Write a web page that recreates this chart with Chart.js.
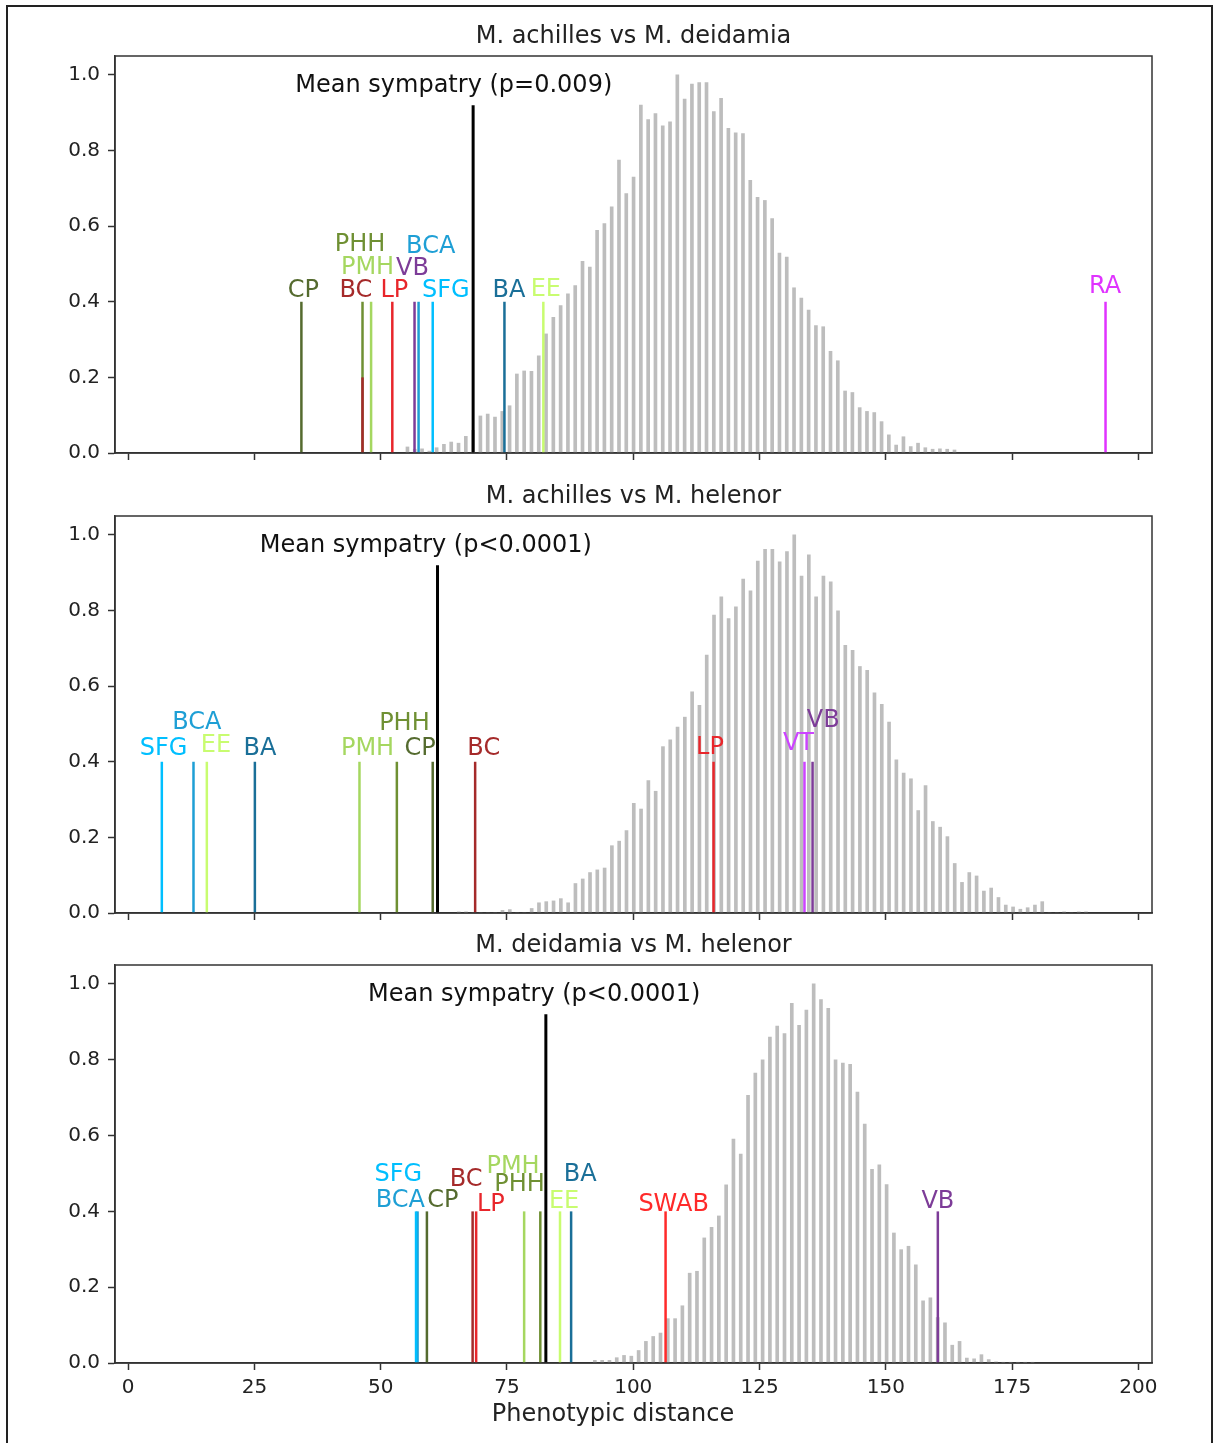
<!DOCTYPE html>
<html>
<head>
<meta charset="utf-8">
<script src="https://cdn.jsdelivr.net/npm/chart.js@4.4.1/dist/chart.umd.min.js"></script>
<style>
  body { margin: 0; background: #fff; }
  #frame { position: absolute; left: 6px; top: 5px; width: 1203px; height: 1460px;
           border-left: 2px solid #222; border-top: 2px solid #222; border-right: 2px solid #222; }
  canvas { position: absolute; left: 0; }
</style>
</head>
<body>
<div id="frame"></div>
<canvas id="c1" width="1213" height="473" style="top:0px"></canvas>
<canvas id="c2" width="1213" height="463" style="top:470px"></canvas>
<canvas id="c3" width="1213" height="534" style="top:910px"></canvas>
<script>
// axes
const xTicks = [0, 25, 50, 75, 100, 125, 150, 175, 200];
const yTicks = [0, 0.2, 0.4, 0.6, 0.8, 1.0];
const binWidth = 1.444;
const meanTop = 0.92;

const siteColors = {
  CP: '#556b2f', PHH: '#6f9033', PMH: '#a5d760', BC: '#a52a2a', LP: '#e8262b',
  VB: '#7d3c98', BCA: '#1e9fd5', SFG: '#00bfff', BA: '#1a6f98', EE: '#c8fc70',
  RA: '#e033ff', VT: '#cc44ff', SWAB: '#ff2a2a'
};

// panel 1: M. achilles vs M. deidamia
const p1Title = 'M. achilles vs M. deidamia';
const p1MeanText = 'Mean sympatry (p=0.009)';
const p1Mean = 68.3;
const p1BinStart = 55.3;
const p1Hist = [0.016, 0.01, 0.011, 0.005, 0.014, 0.023, 0.029, 0.026, 0.044, 0.06,
  0.098, 0.103, 0.095, 0.11, 0.125, 0.209, 0.217, 0.216, 0.257, 0.315,
  0.359, 0.39, 0.421, 0.443, 0.507, 0.492, 0.589, 0.607, 0.651, 0.775,
  0.686, 0.73, 0.92, 0.882, 0.898, 0.865, 0.876, 1.0, 0.936, 0.976,
  0.98, 0.98, 0.903, 0.938, 0.859, 0.847, 0.845, 0.721, 0.676, 0.668,
  0.62, 0.529, 0.518, 0.437, 0.41, 0.378, 0.337, 0.334, 0.269, 0.244,
  0.164, 0.16, 0.12, 0.11, 0.107, 0.083, 0.048, 0.021, 0.043, 0.017,
  0.026, 0.014, 0.01, 0.011, 0.01, 0.008];
const p1Sites = ['CP', 'PHH', 'BC', 'PMH', 'LP', 'VB', 'BCA', 'SFG', 'BA', 'EE', 'RA'];
const p1SiteX = [34.3, 46.4, 46.4, 48.1, 52.3, 56.7, 57.5, 60.3, 74.5, 82.2, 193.5];
const p1SiteH = [0.4, 0.4, 0.2, 0.4, 0.4, 0.4, 0.4, 0.4, 0.4, 0.4, 0.4];
const p1LabelX = [34.7, 45.9, 45.1, 47.4, 52.7, 56.3, 59.9, 62.9, 75.4, 82.7, 193.4];
const p1LabelY = [0.412, 0.533, 0.412, 0.474, 0.412, 0.472, 0.53, 0.412, 0.412, 0.414, 0.422];

// panel 2: M. achilles vs M. helenor
const p2Title = 'M. achilles vs M. helenor';
const p2MeanText = 'Mean sympatry (p<0.0001)';
const p2Mean = 61.25;
const p2BinStart = 65.45;
const p2Hist = [0.003, 0.003, 0, 0, 0, 0, 0.007, 0.009, 0, 0,
  0.012, 0.027, 0.030, 0.032, 0.038, 0.027, 0.078, 0.090, 0.107, 0.114,
  0.119, 0.178, 0.190, 0.218, 0.290, 0.275, 0.350, 0.322, 0.440, 0.458,
  0.492, 0.518, 0.585, 0.549, 0.682, 0.788, 0.836, 0.779, 0.810, 0.883,
  0.852, 0.931, 0.962, 0.962, 0.929, 0.956, 1.0, 0.891, 0.947, 0.836,
  0.891, 0.876, 0.799, 0.708, 0.695, 0.652, 0.642, 0.582, 0.552, 0.505,
  0.405, 0.370, 0.355, 0.271, 0.337, 0.242, 0.227, 0.202, 0.131, 0.081,
  0.107, 0.098, 0.058, 0.066, 0.041, 0.021, 0.016, 0.010, 0.014, 0.021,
  0.030, 0, 0, 0.003, 0, 0.003, 0.003];
const p2Sites = ['SFG', 'BCA', 'EE', 'BA', 'PMH', 'PHH', 'CP', 'BC', 'LP', 'VT', 'VB'];
const p2SiteX = [6.67, 12.94, 15.58, 25.09, 45.8, 53.2, 60.3, 68.7, 115.9, 133.9, 135.5];
const p2SiteH = [0.4, 0.4, 0.4, 0.4, 0.4, 0.4, 0.4, 0.4, 0.4, 0.4, 0.4];
const p2LabelX = [7.0, 13.6, 17.4, 26.1, 47.4, 54.7, 57.8, 70.4, 115.2, 132.7, 137.6];
const p2LabelY = [0.418, 0.487, 0.425, 0.418, 0.418, 0.485, 0.418, 0.418, 0.421, 0.432, 0.493];

// panel 3: M. deidamia vs M. helenor
const p3Title = 'M. deidamia vs M. helenor';
const p3MeanText = 'Mean sympatry (p<0.0001)';
const p3Mean = 82.7;
const p3BinStart = 92.4;
const p3Hist = [0.007, 0.007, 0.007, 0.014, 0.020, 0.018, 0.033, 0.057, 0.070, 0.079,
  0.117, 0.117, 0.151, 0.237, 0.242, 0.330, 0.358, 0.388, 0.470, 0.591,
  0.551, 0.706, 0.765, 0.800, 0.860, 0.889, 0.869, 0.949, 0.891, 0.931,
  1.0, 0.959, 0.936, 0.800, 0.791, 0.788, 0.715, 0.630, 0.511, 0.523,
  0.471, 0.343, 0.299, 0.308, 0.259, 0.164, 0.172, 0.12, 0.106, 0.047,
  0.057, 0.013, 0.011, 0.022, 0.009, 0.003, 0.002, 0.002, 0.002, 0.002,
  0.002];
const p3Sites = ['BCA', 'SFG', 'CP', 'BC', 'LP', 'PMH', 'PHH', 'EE', 'BA', 'SWAB', 'VB'];
const p3SiteX = [57.3, 57.0, 59.15, 68.2, 68.9, 78.4, 81.6, 85.5, 87.7, 106.4, 160.3];
const p3SiteH = [0.4, 0.4, 0.4, 0.4, 0.4, 0.4, 0.4, 0.4, 0.4, 0.4, 0.4];
const p3LabelX = [53.9, 53.5, 62.3, 66.9, 71.8, 76.2, 77.5, 86.3, 89.5, 108.0, 160.3];
const p3LabelY = [0.411, 0.48, 0.411, 0.467, 0.401, 0.502, 0.454, 0.409, 0.48, 0.402, 0.408];

const FONT = '"DejaVu Sans", Verdana, sans-serif';

const annotPlugin = {
  id: 'annot',
  afterDatasetsDraw(chart, args, opts) {
    const { ctx, chartArea: a, scales: { x, y } } = chart;
    ctx.save();
    ctx.strokeStyle = '#333';
    ctx.lineWidth = 1.5;
    ctx.strokeRect(a.left, a.top, a.right - a.left, a.bottom - a.top);

    ctx.font = '24px ' + FONT;
    ctx.fillStyle = '#222';
    ctx.textAlign = 'center';
    ctx.textBaseline = 'middle';
    ctx.fillText(opts.title, (a.left + a.right) / 2, a.top - 19);

    ctx.textBaseline = 'alphabetic';
    opts.sites.forEach((s, i) => {
      ctx.fillStyle = siteColors[s];
      ctx.fillText(s, x.getPixelForValue(opts.labelX[i]), y.getPixelForValue(opts.labelY[i]));
    });

    ctx.fillStyle = '#111';
    ctx.textAlign = 'left';
    ctx.fillText(opts.meanText, x.getPixelForValue(opts.mean - 35.2), y.getPixelForValue(0.955));

    if (opts.xTitle) {
      ctx.textAlign = 'center';
      ctx.textBaseline = 'middle';
      ctx.fillStyle = '#222';
      ctx.fillText(opts.xTitle, 613, a.bottom + 52);
    }
    ctx.restore();
  }
};

function makeChart(id, title, meanText, mean, binStart, hist, sites, siteX, siteH, labelX, labelY, padTop, axisH, showX) {
  const datasets = [];
  sites.forEach((s, i) => {
    datasets.push({
      type: 'line',
      data: [{ x: siteX[i], y: 0 }, { x: siteX[i], y: siteH[i] }],
      borderColor: siteColors[s],
      borderWidth: 2.5,
      pointRadius: 0,
      borderCapStyle: 'butt',
      order: -i
    });
  });
  datasets.push({
    type: 'line',
    data: [{ x: mean, y: 0 }, { x: mean, y: meanTop }],
    borderColor: '#000',
    borderWidth: 3,
    pointRadius: 0,
    borderCapStyle: 'butt',
    order: -100
  });
  datasets.push({
    type: 'bar',
    data: hist.map((h, i) => ({ x: binStart + i * binWidth, y: h })),
    backgroundColor: '#bdbdbd',
    barThickness: 3,
    order: 100
  });

  return new Chart(document.getElementById(id), {
    type: 'bar',
    data: { datasets },
    plugins: [annotPlugin],
    options: {
      responsive: false,
      animation: false,
      devicePixelRatio: 1,
      layout: { padding: { top: padTop, right: 61, left: 0, bottom: 0 } },
      plugins: {
        legend: { display: false },
        tooltip: { enabled: false },
        annot: {
          title, meanText, mean, sites, labelX, labelY,
          xTitle: showX ? 'Phenotypic distance' : null
        }
      },
      scales: {
        x: {
          type: 'linear',
          min: -2.6,
          max: 202.7,
          offset: false,
          afterBuildTicks: sc => { sc.ticks = xTicks.map(v => ({ value: v })); },
          afterFit: sc => { sc.height = axisH; },
          ticks: {
            display: showX,
            font: { family: FONT, size: 20 },
            color: '#222',
            padding: 6,
            maxRotation: 0
          },
          grid: { offset: false, drawOnChartArea: false, drawTicks: true, tickLength: 7, tickColor: '#333', tickWidth: 1.5 },
          border: { display: true, color: '#333', width: 1.5 }
        },
        y: {
          min: 0,
          max: 1.05,
          afterBuildTicks: sc => { sc.ticks = yTicks.map(v => ({ value: v })); },
          afterFit: sc => { sc.width = 115; },
          ticks: {
            font: { family: FONT, size: 20 },
            color: '#222',
            padding: 8,
            callback: v => v.toFixed(1)
          },
          grid: { drawOnChartArea: false, drawTicks: true, tickLength: 7, tickColor: '#333', tickWidth: 1.5 },
          border: { display: true, color: '#333', width: 1.5 }
        }
      }
    }
  });
}

makeChart('c1', p1Title, p1MeanText, p1Mean, p1BinStart, p1Hist, p1Sites, p1SiteX, p1SiteH, p1LabelX, p1LabelY, 56, 15, false);
makeChart('c2', p2Title, p2MeanText, p2Mean, p2BinStart, p2Hist, p2Sites, p2SiteX, p2SiteH, p2LabelX, p2LabelY, 46, 15, false);
makeChart('c3', p3Title, p3MeanText, p3Mean, p3BinStart, p3Hist, p3Sites, p3SiteX, p3SiteH, p3LabelX, p3LabelY, 55, 81, true);
</script>
</body>
</html>
